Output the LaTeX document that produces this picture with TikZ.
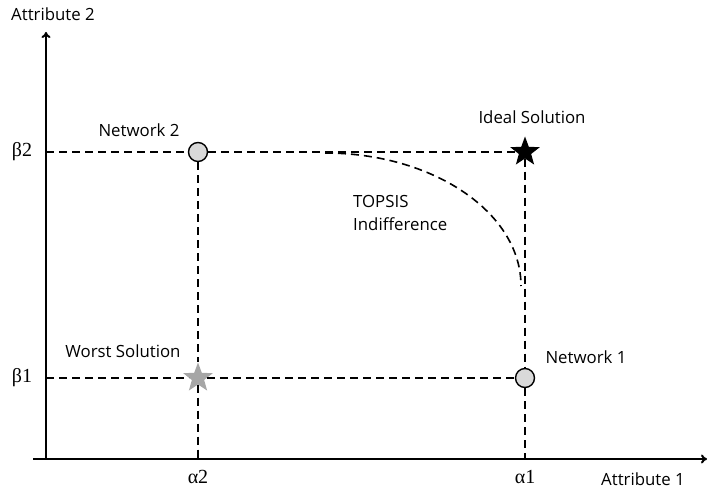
\documentclass[tikz,border=0pt]{standalone}
\usepackage{fontspec}
\setmainfont{Open Sans}
\newfontfamily\grk{Liberation Serif}
\usetikzlibrary{shapes.geometric,arrows.meta}
\begin{document}
\begin{tikzpicture}[x=1pt,y=-1pt,
  axis/.style={line width=2pt,-{To[length=6pt,width=9pt]}},
  guide/.style={line width=1.6pt,dash pattern=on 8pt off 5pt},
  pt/.style={circle,draw=black,line width=1.4pt,fill=black!15,minimum size=19pt,inner sep=0pt},
  starpt/.style={star,star points=5,star point ratio=2.4,minimum size=31pt,inner sep=0pt},
  lbl/.style={font=\fontsize{16.8}{21}\selectfont,inner sep=0pt},
  glbl/.style={font=\grk\fontsize{20}{22}\selectfont,inner sep=0pt}]
\useasboundingbox (0,0) rectangle (708,497);
% axes
\coordinate (o) at (46,459);
\coordinate (ytop) at (46,32);
\coordinate (xl) at (33,459);
\coordinate (xr) at (707,459);
\draw[axis] (o) -- (ytop);
\draw[axis] (xl) -- (xr);
% points
\node[pt] (n2) at (198,152) {};
\node[pt] (n1) at (525,378) {};
\node[starpt,fill=black] (ideal) at (525,152) {};
\node[starpt,fill=black!35] (worst) at (198,378) {};
\coordinate (b2) at (46,152);
\coordinate (b1) at (46,378);
\coordinate (a2) at (198,459);
\coordinate (a1) at (525,459);
% guides
\draw[guide] (b2) -- (n2);
\draw[guide] (n2) -- (ideal);
\draw[guide] (b1) -- (worst);
\draw[guide] (worst) -- (n1);
\draw[guide] (n2) -- (worst);
\draw[guide] (worst) -- (a2);
\draw[guide] (ideal) -- (n1);
\draw[guide] (n1) -- (a1);
% indifference curve
\coordinate (cs) at (325,153);
\draw[guide] (cs) arc[start angle=90,end angle=0,x radius=196,y radius=-133];
% labels
\node[lbl,anchor=west] (at2) at (11,14) {Attribute 2};
\node[lbl,anchor=west] (at1) at (601,479) {Attribute 1};
\node[lbl] (ln2) at (139,130) {Network 2};
\node[lbl] (ln1) at (586,357) {Network 1};
\node[lbl] (lid) at (532,117) {Ideal Solution};
\node[lbl] (lws) at (123,351) {Worst Solution};
\node[lbl,anchor=west] (lt) at (353,201) {TOPSIS};
\node[lbl,anchor=west] (li) at (353,224) {Indifference};
\node[glbl] (lb2) at (22,152) {β2};
\node[glbl] (lb1) at (22,378) {β1};
\node[glbl] (la2) at (198,477) {α2};
\node[glbl] (la1) at (525,477) {α1};
\end{tikzpicture}
\end{document}
